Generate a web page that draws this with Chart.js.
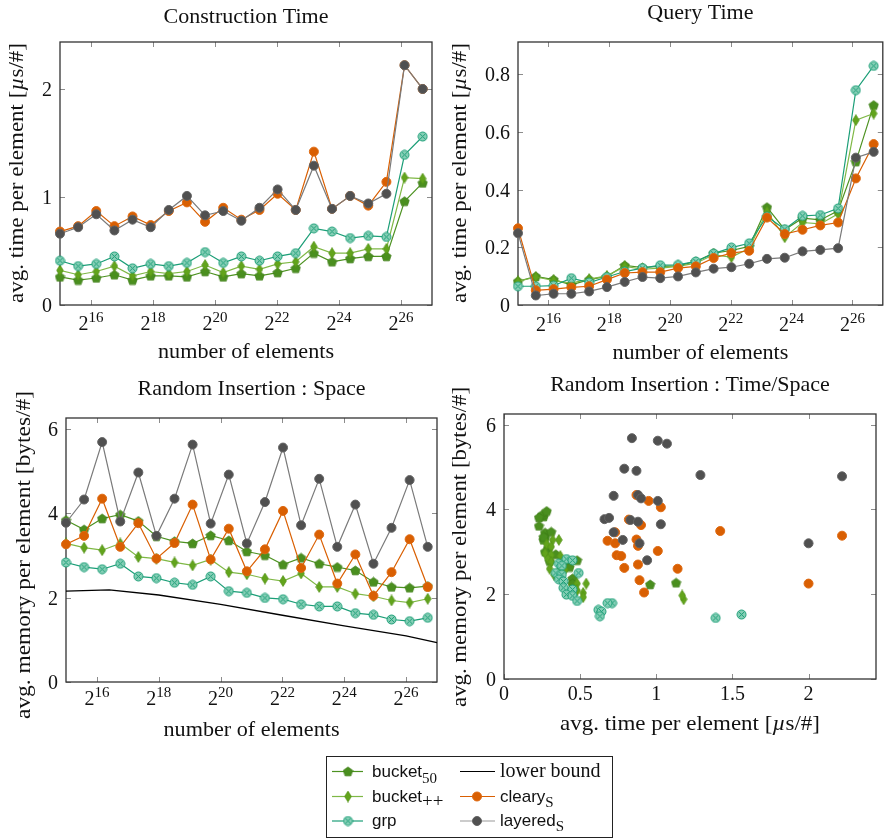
<!DOCTYPE html>
<html>
<head>
<meta charset="utf-8">
<script src="https://cdn.jsdelivr.net/npm/chart.js@4.4.1/dist/chart.umd.min.js"></script>
<style>
html, body { margin: 0; padding: 0; background: #fff; }
#wrap { position: relative; width: 889px; height: 839px; }
#wrap canvas { position: absolute; left: 0; top: 0; }
</style>
</head>
<body>
<div id="wrap">
  <canvas id="construction" width="889" height="839"></canvas>
  <canvas id="query" width="889" height="839"></canvas>
  <canvas id="space" width="889" height="839"></canvas>
  <canvas id="timespace" width="889" height="839"></canvas>
</div>
<script>
// number of elements (x of the three line panels): 2^15 * 1.5^k
const elements = [32768, 49152, 73728, 110592, 165888, 248832, 373248, 559872, 839808, 1259712,
  1889568, 2834352, 4251528, 6377292, 9565938, 14348907, 21523361, 32285041, 48427562, 72641343, 108962014];
const xTickExps = [16, 18, 20, 22, 24, 26];

// Construction Time [µs/#]
const constrTicks = [0, 1, 2];
const constrBucket50 = [0.26, 0.23, 0.25, 0.28, 0.23, 0.27, 0.27, 0.26, 0.31, 0.26, 0.29, 0.27, 0.30, 0.34, 0.48, 0.40, 0.43, 0.45, 0.45, 0.96, 1.13];
const constrBucketPP = [0.32, 0.28, 0.31, 0.36, 0.27, 0.31, 0.29, 0.31, 0.37, 0.30, 0.36, 0.33, 0.38, 0.40, 0.54, 0.48, 0.48, 0.52, 0.52, 1.18, 1.17];
const constrGrp = [0.41, 0.36, 0.38, 0.45, 0.34, 0.38, 0.36, 0.39, 0.49, 0.39, 0.45, 0.41, 0.45, 0.48, 0.71, 0.68, 0.62, 0.64, 0.63, 1.39, 1.56];
const constrCleary = [0.68, 0.73, 0.87, 0.73, 0.82, 0.74, 0.87, 0.95, 0.77, 0.90, 0.79, 0.88, 1.03, 0.88, 1.42, 0.89, 1.01, 0.92, 1.14, 2.22, 2.00];
const constrLayered = [0.66, 0.72, 0.84, 0.69, 0.79, 0.72, 0.88, 1.01, 0.83, 0.87, 0.78, 0.90, 1.07, 0.88, 1.29, 0.89, 1.01, 0.94, 1.03, 2.22, 2.00];

// Query Time [µs/#]
const queryTicks = [0, 0.2, 0.4, 0.6, 0.8];
const queryBucket50 = [0.082, 0.099, 0.088, 0.070, 0.088, 0.099, 0.137, 0.130, 0.134, 0.136, 0.151, 0.180, 0.189, 0.203, 0.339, 0.261, 0.301, 0.295, 0.327, 0.497, 0.693];
const queryBucketPP = [0.082, 0.097, 0.085, 0.076, 0.090, 0.101, 0.134, 0.124, 0.128, 0.134, 0.145, 0.174, 0.166, 0.197, 0.324, 0.235, 0.286, 0.281, 0.316, 0.641, 0.664];
const queryGrp = [0.065, 0.065, 0.067, 0.093, 0.078, 0.097, 0.116, 0.128, 0.138, 0.139, 0.151, 0.178, 0.199, 0.214, 0.307, 0.263, 0.309, 0.312, 0.335, 0.745, 0.829];
const queryCleary = [0.266, 0.051, 0.055, 0.061, 0.065, 0.088, 0.111, 0.114, 0.114, 0.128, 0.134, 0.163, 0.180, 0.188, 0.303, 0.246, 0.261, 0.276, 0.286, 0.439, 0.558];
const queryLayered = [0.249, 0.033, 0.039, 0.039, 0.047, 0.062, 0.080, 0.097, 0.093, 0.099, 0.113, 0.126, 0.131, 0.143, 0.160, 0.164, 0.186, 0.191, 0.197, 0.511, 0.531];

// Random Insertion : Space [bytes/#]
const spaceTicks = [0, 2, 4, 6];
const spaceBucket50 = [3.83, 3.61, 3.87, 3.96, 3.81, 3.45, 3.33, 3.28, 3.47, 3.35, 3.09, 3.00, 2.78, 2.94, 2.80, 2.72, 2.64, 2.37, 2.25, 2.23, 2.27];
const spaceBucketPP = [3.28, 3.18, 3.12, 3.28, 2.96, 2.92, 2.83, 2.76, 2.90, 2.60, 2.55, 2.45, 2.39, 2.57, 2.25, 2.25, 2.09, 2.03, 1.93, 1.88, 1.97];
const spaceGrp = [2.83, 2.72, 2.67, 2.80, 2.50, 2.46, 2.35, 2.30, 2.50, 2.15, 2.11, 1.99, 1.96, 1.84, 1.79, 1.79, 1.63, 1.59, 1.48, 1.44, 1.52];
const spaceCleary = [3.26, 3.46, 4.34, 3.20, 3.76, 2.92, 3.29, 4.20, 2.90, 3.63, 2.62, 3.14, 4.05, 2.70, 3.49, 2.33, 3.02, 2.04, 2.60, 3.38, 2.25];
const spaceLayered = [3.77, 4.32, 5.68, 3.80, 4.96, 3.46, 4.34, 5.62, 3.75, 4.91, 3.28, 4.26, 5.55, 3.71, 4.81, 3.20, 4.20, 2.80, 3.65, 4.78, 3.20];
const lowerBoundElements = [32768, 86475, 262144, 1048576, 4194304, 16777216, 67108864, 134217728];
const lowerBound = [2.15, 2.18, 2.06, 1.84, 1.58, 1.33, 1.09, 0.93];

// Time/Space scatter ticks
const tsXTicks = [0, 0.5, 1, 1.5, 2];
const tsYTicks = [0, 2, 4, 6];

const W = 889, H = 839;
const serif = px => px + 'px "Liberation Serif", "DejaVu Serif", serif';
const italicSerif = px => 'italic ' + serif(px);
const sans = px => px + 'px "Liberation Sans", "DejaVu Sans", sans-serif';

// draws a row of differently styled text pieces, optionally stretched to a width
function drawRuns(ctx, runs, x, y, align, fitW) {
    let w = 0;
    runs.forEach(r => { ctx.font = r.font; w += ctx.measureText(r.t).width; });
    const k = fitW ? fitW / w : 1;
    ctx.save();
    ctx.translate(x, y);
    ctx.scale(k, 1);
    let cx = align === 'center' ? -w / 2 : (align === 'right' ? -w : 0);
    ctx.textAlign = 'left';
    ctx.textBaseline = 'alphabetic';
    runs.forEach(r => {
        ctx.font = r.font;
        ctx.fillText(r.t, cx, r.dy || 0);
        cx += ctx.measureText(r.t).width;
    });
    ctx.restore();
}

// --- markers ---
function markerCanvas(w, h, paint) {
    const c = document.createElement('canvas');
    c.width = w; c.height = h;
    paint(c.getContext('2d'), w / 2, h / 2);
    return c;
}
const pentagon = markerCanvas(11, 11, (g, cx, cy) => {
    g.beginPath();
    for (let i = 0; i < 5; i++) {
        const a = -Math.PI / 2 + i * 2 * Math.PI / 5;
        const px = cx + 4.9 * Math.cos(a), py = cy + 0.4 + 4.9 * Math.sin(a);
        i ? g.lineTo(px, py) : g.moveTo(px, py);
    }
    g.closePath();
    g.fillStyle = '#4a8f1f'; g.fill();
    g.strokeStyle = '#3f7f18'; g.lineWidth = 0.8; g.stroke();
});
const diamond = markerCanvas(8, 12, (g, cx, cy) => {
    g.beginPath();
    g.moveTo(cx, 0.6); g.lineTo(7.3, cy); g.lineTo(cx, 11.4); g.lineTo(0.7, cy);
    g.closePath();
    g.fillStyle = '#62a41c'; g.fill();
    g.strokeStyle = '#569419'; g.lineWidth = 0.8; g.stroke();
});
const circleX = markerCanvas(11, 11, (g, cx, cy) => {
    const r = 4.5;
    g.beginPath(); g.arc(cx, cy, r, 0, Math.PI * 2);
    g.fillStyle = '#86cfb6'; g.fill();
    g.strokeStyle = '#1b9e77'; g.lineWidth = 1; g.stroke();
    const d = r * 0.7;
    g.beginPath();
    g.moveTo(cx - d, cy - d); g.lineTo(cx + d, cy + d);
    g.moveTo(cx + d, cy - d); g.lineTo(cx - d, cy + d);
    g.stroke();
});

const styles = {
    bucket50: { borderColor: '#4d9221', borderWidth: 1.2, pointStyle: pentagon, pointRadius: 5 },
    bucketPP: { borderColor: '#7fb845', borderWidth: 1.2, pointStyle: diamond, pointRadius: 5 },
    grp: { borderColor: '#1b9e77', borderWidth: 1.2, pointStyle: circleX, pointRadius: 5 },
    cleary: { borderColor: '#d95f02', borderWidth: 1.2, pointStyle: 'circle', pointRadius: 4.5,
        pointBackgroundColor: '#d95f02', pointBorderColor: '#de6a12', pointBorderWidth: 1 },
    layered: { borderColor: '#7a7a7a', borderWidth: 1.2, pointStyle: 'circle', pointRadius: 4.5,
        pointBackgroundColor: '#505050', pointBorderColor: '#636363', pointBorderWidth: 1 },
    lower: { borderColor: '#000', borderWidth: 1.3, pointRadius: 0 }
};

function series(key, xs, ys, showLine) {
    return Object.assign({
        data: xs.map((x, i) => ({ x: x, y: ys[i] })),
        showLine: showLine, clip: false, tension: 0, fill: false
    }, styles[key]);
}

// axis frame, inward ticks, titles and labels
function framePlugin(cfg) {
    return {
        id: 'frame',
        beforeDatasetsDraw(chart) {
            const { ctx, chartArea: a } = chart;
            const sx = chart.scales.x, sy = chart.scales.y;
            ctx.save();
            ctx.strokeStyle = '#8c8c8c';
            ctx.lineWidth = 1;
            ctx.beginPath();
            cfg.xTicks.forEach(v => {
                const px = Math.round(sx.getPixelForValue(v)) + 0.5;
                ctx.moveTo(px, a.bottom); ctx.lineTo(px, a.bottom - 5);
                ctx.moveTo(px, a.top); ctx.lineTo(px, a.top + 5);
            });
            cfg.yTicks.forEach(v => {
                const py = Math.round(sy.getPixelForValue(v)) + 0.5;
                ctx.moveTo(a.left, py); ctx.lineTo(a.left + 5, py);
                ctx.moveTo(a.right, py); ctx.lineTo(a.right - 5, py);
            });
            ctx.stroke();
            ctx.strokeStyle = '#333';
            ctx.lineWidth = 1.3;
            ctx.strokeRect(a.left, a.top, a.right - a.left, a.bottom - a.top);
            ctx.restore();
        },
        afterDraw(chart) {
            const { ctx, chartArea: a } = chart;
            const sx = chart.scales.x, sy = chart.scales.y;
            ctx.save();
            ctx.fillStyle = '#111';
            drawRuns(ctx, [{ t: cfg.title, font: serif(22) }], (a.left + a.right) / 2, cfg.titleY, 'center');
            cfg.xTicks.forEach((v, i) => {
                const px = sx.getPixelForValue(v);
                const runs = cfg.pow2
                    ? [{ t: '2', font: serif(20) }, { t: String(cfg.xTickLabels[i]), font: serif(15), dy: -8 }]
                    : [{ t: String(cfg.xTickLabels[i]), font: serif(20) }];
                drawRuns(ctx, runs, px, cfg.xTickY, 'center');
            });
            cfg.yTicks.forEach(v => {
                drawRuns(ctx, [{ t: String(v), font: serif(20) }], a.left - 8, sy.getPixelForValue(v) + 7, 'right');
            });
            drawRuns(ctx, cfg.xLabel, (a.left + a.right) / 2, cfg.xLabelY, 'center', cfg.xLabelW);
            ctx.translate(cfg.yLabelX, cfg.yLabelY);
            ctx.rotate(-Math.PI / 2);
            drawRuns(ctx, cfg.yLabel, 0, 0, 'center', cfg.yLabelW);
            ctx.restore();
        }
    };
}

const timeLabel = [{ t: 'avg. time per element [', font: serif(22) }, { t: 'µ', font: italicSerif(22) }, { t: 's/#]', font: serif(22) }];
const nLabel = [{ t: 'number of elements', font: serif(22) }];
const memLabel = [{ t: 'avg. memory per element [bytes/#]', font: serif(22) }];

// legend drawn under the bottom row
const legendPlugin = {
    id: 'legendBox',
    afterDraw(chart) {
        const ctx = chart.ctx;
        ctx.save();
        ctx.strokeStyle = '#222';
        ctx.lineWidth = 1;
        ctx.strokeRect(326.5, 756.5, 286, 81);
        const rows = [771.5, 796.5, 821];
        const base = [777, 801.5, 826];
        const entries = [
            { col: 0, row: 0, key: 'bucket50', mark: pentagon, text: [{ t: 'bucket', font: sans(17) }, { t: '50', font: serif(15), dy: 6 }] },
            { col: 0, row: 1, key: 'bucketPP', mark: diamond, text: [{ t: 'bucket', font: sans(17) }, { t: '++', font: serif(19), dy: 5 }] },
            { col: 0, row: 2, key: 'grp', mark: circleX, text: [{ t: 'grp', font: sans(17) }] },
            { col: 1, row: 0, key: 'lower', mark: null, text: [{ t: 'lower bound', font: serif(20) }] },
            { col: 1, row: 1, key: 'cleary', mark: 'circle', text: [{ t: 'cleary', font: sans(17) }, { t: 'S', font: serif(15), dy: 5 }] },
            { col: 1, row: 2, key: 'layered', mark: 'circle', text: [{ t: 'layered', font: sans(17) }, { t: 'S', font: serif(15), dy: 5 }] }
        ];
        const cols = [{ x0: 332, x1: 363, m: 348, tx: 372 }, { x0: 460, x1: 495, m: 477, tx: 500 }];
        entries.forEach(e => {
            const c = cols[e.col], y = rows[e.row], st = styles[e.key];
            ctx.strokeStyle = e.key === 'layered' ? '#9a9a9a' : st.borderColor;
            ctx.lineWidth = 1.2;
            ctx.beginPath(); ctx.moveTo(c.x0, y); ctx.lineTo(c.x1, y); ctx.stroke();
            if (e.mark === 'circle') {
                ctx.beginPath(); ctx.arc(c.m, y, 4.5, 0, Math.PI * 2);
                ctx.fillStyle = st.pointBackgroundColor; ctx.fill();
                ctx.strokeStyle = st.pointBorderColor; ctx.lineWidth = 1; ctx.stroke();
            } else if (e.mark) {
                ctx.drawImage(e.mark, c.m - e.mark.width / 2, y - e.mark.height / 2);
            }
            ctx.fillStyle = '#111';
            drawRuns(ctx, e.text, c.tx, base[e.row], 'left');
        });
        ctx.restore();
    }
};

function makeChart(id, cfg, datasets, xScale, yScale, extra) {
    const a = cfg.area;
    return new Chart(document.getElementById(id), {
        type: 'line',
        data: { datasets: datasets },
        options: {
            responsive: false,
            animation: false,
            devicePixelRatio: 1,
            events: [],
            layout: { padding: { left: a.l, top: a.t, right: W - a.r, bottom: H - a.b } },
            plugins: { legend: { display: false }, tooltip: { enabled: false } },
            scales: {
                x: Object.assign({ display: false, bounds: 'data' }, xScale),
                y: Object.assign({ display: false, bounds: 'data' }, yScale)
            }
        },
        plugins: [framePlugin(cfg)].concat(extra || [])
    });
}

const logX = { type: 'logarithmic', min: 32768, max: 134217728 };
const pow2Ticks = xTickExps.map(e => Math.pow(2, e));

// later series in the list are drawn first, so layered ends up on top
makeChart('construction', {
    area: { l: 60, t: 42, r: 432, b: 305 }, title: 'Construction Time', titleY: 23,
    xTicks: pow2Ticks, xTickLabels: xTickExps, pow2: true, xTickY: 330, yTicks: constrTicks,
    xLabel: nLabel, xLabelY: 358, xLabelW: 176, yLabel: timeLabel, yLabelX: 23, yLabelY: 173, yLabelW: 260
}, [
    series('layered', elements, constrLayered, true),
    series('cleary', elements, constrCleary, true),
    series('grp', elements, constrGrp, true),
    series('bucketPP', elements, constrBucketPP, true),
    series('bucket50', elements, constrBucket50, true)
], logX, { type: 'linear', min: 0, max: 2.435 });

makeChart('query', {
    area: { l: 518, t: 42, r: 888, b: 305 }, title: 'Query Time', titleY: 18.5,
    xTicks: pow2Ticks, xTickLabels: xTickExps, pow2: true, xTickY: 331, yTicks: queryTicks,
    xLabel: nLabel, xLabelY: 359, xLabelW: 176, yLabel: timeLabel, yLabelX: 466, yLabelY: 173, yLabelW: 260
}, [
    series('layered', elements, queryLayered, true),
    series('cleary', elements, queryCleary, true),
    series('grp', elements, queryGrp, true),
    series('bucketPP', elements, queryBucketPP, true),
    series('bucket50', elements, queryBucket50, true)
], logX, { type: 'linear', min: 0, max: 0.912 });

makeChart('space', {
    area: { l: 66, t: 418, r: 437, b: 682 }, title: 'Random Insertion : Space', titleY: 395,
    xTicks: pow2Ticks, xTickLabels: xTickExps, pow2: true, xTickY: 705, yTicks: spaceTicks,
    xLabel: nLabel, xLabelY: 736, xLabelW: 176, yLabel: memLabel, yLabelX: 30, yLabelY: 555, yLabelW: 328
}, [
    series('layered', elements, spaceLayered, true),
    series('cleary', elements, spaceCleary, true),
    series('lower', lowerBoundElements, lowerBound, true),
    series('grp', elements, spaceGrp, true),
    series('bucketPP', elements, spaceBucketPP, true),
    series('bucket50', elements, spaceBucket50, true)
], logX, { type: 'linear', min: 0, max: 6.25 }, [legendPlugin]);

// scatter: construction time against space, point by point
makeChart('timespace', {
    area: { l: 504, t: 414, r: 876, b: 679 }, title: 'Random Insertion : Time/Space', titleY: 391,
    xTicks: tsXTicks, xTickLabels: tsXTicks, pow2: false, xTickY: 700, yTicks: tsYTicks,
    xLabel: timeLabel, xLabelY: 730, xLabelW: 260, yLabel: memLabel, yLabelX: 466, yLabelY: 547, yLabelW: 320
}, [
    series('layered', constrLayered, spaceLayered, false),
    series('cleary', constrCleary, spaceCleary, false),
    series('grp', constrGrp, spaceGrp, false),
    series('bucketPP', constrBucketPP, spaceBucketPP, false),
    series('bucket50', constrBucket50, spaceBucket50, false)
], { type: 'linear', min: 0, max: 2.443 }, { type: 'linear', min: 0, max: 6.25 });
</script>
</body>
</html>
